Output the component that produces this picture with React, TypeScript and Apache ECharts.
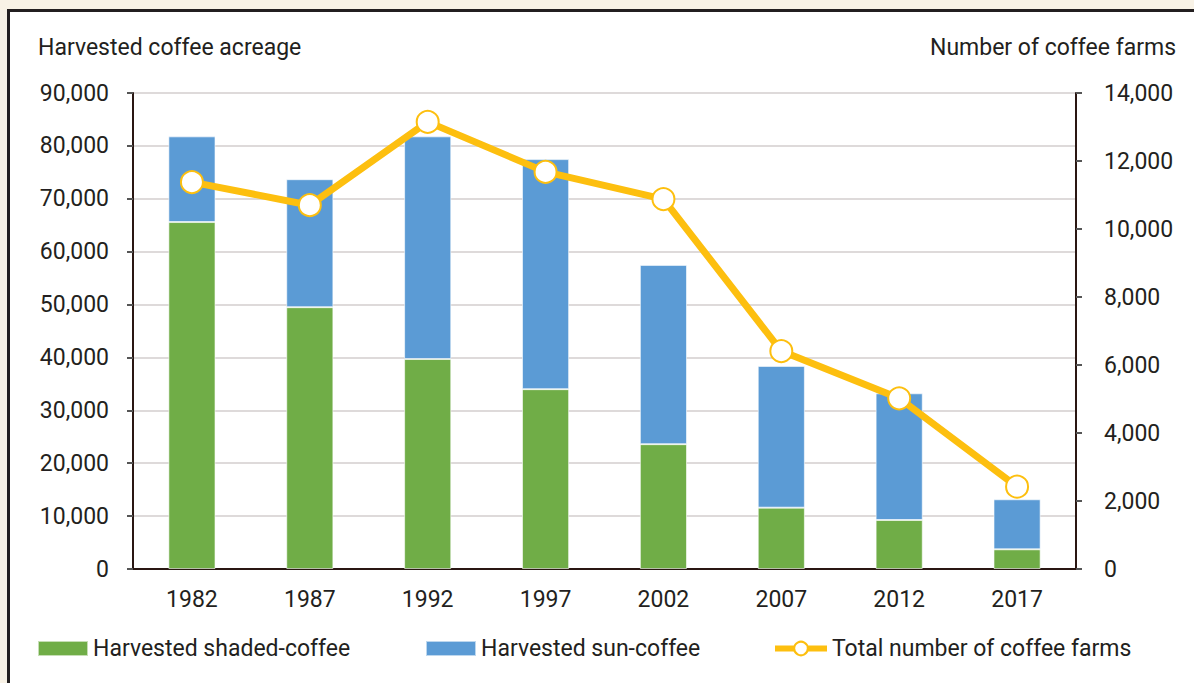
import React, { useEffect, useRef } from "react";
import * as echarts from "echarts";

const years = ["1982", "1987", "1992", "1997", "2002", "2007", "2012", "2017"];
const shadedCoffee = [65600, 49500, 39700, 34000, 23600, 11600, 9260, 3720];
const sunCoffee = [16200, 24200, 42100, 43500, 33900, 26800, 23960, 9460];
const totalFarms = [11380, 10700, 13150, 11680, 10880, 6410, 5020, 2420];

const leftTitle = "Harvested coffee acreage";
const rightTitle = "Number of coffee farms";
const seriesNames = ["Harvested shaded-coffee", "Harvested sun-coffee", "Total number of coffee farms"];

const FONT = "Roboto, 'Liberation Sans', Arial, sans-serif";
const FS = 23;
const TXT = "#231f20";
const AXIS = "#2a1713";
const GREEN = "#70ad47";
const BLUE = "#5b9bd5";
const GOLD = "#fdbf0f";

export default function App() {
  const ref = useRef<HTMLDivElement>(null);

  useEffect(() => {
    if (!ref.current) return;
    const chart = echarts.init(ref.current, null, { renderer: "svg" });
    const fmt = (v: number) => v.toLocaleString("en-US");
    const legendText = { fontFamily: FONT, fontSize: FS, color: TXT };
    chart.setOption({
      animation: false,
      backgroundColor: "transparent",
      textStyle: { fontFamily: FONT },
      grid: { left: 133, right: 118, top: 93, bottom: 114, containLabel: false },
      graphic: [
        { type: "text", left: 38, top: 36, style: { text: leftTitle, font: `${FS}px ${FONT}`, fill: TXT } },
        { type: "text", right: 18, top: 36, style: { text: rightTitle, font: `${FS}px ${FONT}`, fill: TXT } },
      ],
      legend: [
        { data: [seriesNames[0]], left: 37, top: 637, padding: 0, itemWidth: 50, itemHeight: 15, itemGap: 6, textStyle: legendText, icon: "rect" },
        { data: [seriesNames[1]], left: 425, top: 637, padding: 0, itemWidth: 50, itemHeight: 15, textStyle: legendText, icon: "rect" },
        {
          data: [seriesNames[2]],
          left: 772,
          top: 637,
          padding: 0,
          itemWidth: 52,
          itemHeight: 17,
          itemGap: 4,
          textStyle: legendText,
          lineStyle: { width: 6, color: GOLD },
        },
      ],
      xAxis: {
        type: "category",
        data: years,
        axisLine: { lineStyle: { color: AXIS, width: 2 } },
        axisTick: { alignWithLabel: true, length: 6, lineStyle: { color: "#555", width: 2 } },
        axisLabel: { color: TXT, fontSize: FS, fontFamily: FONT, margin: 19 },
      },
      yAxis: [
        {
          type: "value",
          min: 0,
          max: 90000,
          interval: 10000,
          axisLine: { show: true, lineStyle: { color: AXIS, width: 2 } },
          axisTick: { show: true, length: 6, lineStyle: { color: "#555", width: 2 } },
          axisLabel: { color: TXT, fontSize: FS, fontFamily: FONT, margin: 24, formatter: fmt },
          splitLine: { lineStyle: { color: "#d3cece", width: 1.5 } },
        },
        {
          type: "value",
          min: 0,
          max: 14000,
          interval: 2000,
          position: "right",
          axisLine: { show: true, lineStyle: { color: AXIS, width: 2 } },
          axisTick: { show: true, length: 6, lineStyle: { color: "#555", width: 2 } },
          axisLabel: { color: TXT, fontSize: FS, fontFamily: FONT, margin: 28, formatter: fmt },
          splitLine: { show: false },
        },
      ],
      series: [
        {
          name: seriesNames[0],
          type: "bar",
          stack: "acreage",
          data: shadedCoffee,
          barWidth: "40%",
          itemStyle: { color: GREEN, borderColor: "rgba(255,255,255,0.6)", borderWidth: 1 },
        },
        {
          name: seriesNames[1],
          type: "bar",
          stack: "acreage",
          data: sunCoffee,
          barWidth: "40%",
          itemStyle: { color: BLUE, borderColor: "rgba(255,255,255,0.6)", borderWidth: 1 },
        },
        {
          name: seriesNames[2],
          type: "line",
          yAxisIndex: 1,
          data: totalFarms,
          symbol: "circle",
          symbolSize: 22,
          lineStyle: { color: GOLD, width: 7 },
          itemStyle: { color: "#ffffff", borderColor: GOLD, borderWidth: 2 },
          z: 5,
        },
      ],
    });
    return () => chart.dispose();
  }, []);

  return (
    <div style={{ position: "fixed", left: 0, top: 0, width: 1194, height: 683, overflow: "hidden", background: "#f8f2e6" }}>
      <div
        style={{
          position: "absolute",
          left: 7,
          top: 9,
          width: 1400,
          height: 900,
          border: "3px solid #231f20",
          background: "#ffffff",
        }}
      />
      <div ref={ref} style={{ position: "absolute", left: 0, top: 0, width: 1194, height: 683 }} />
    </div>
  );
}
